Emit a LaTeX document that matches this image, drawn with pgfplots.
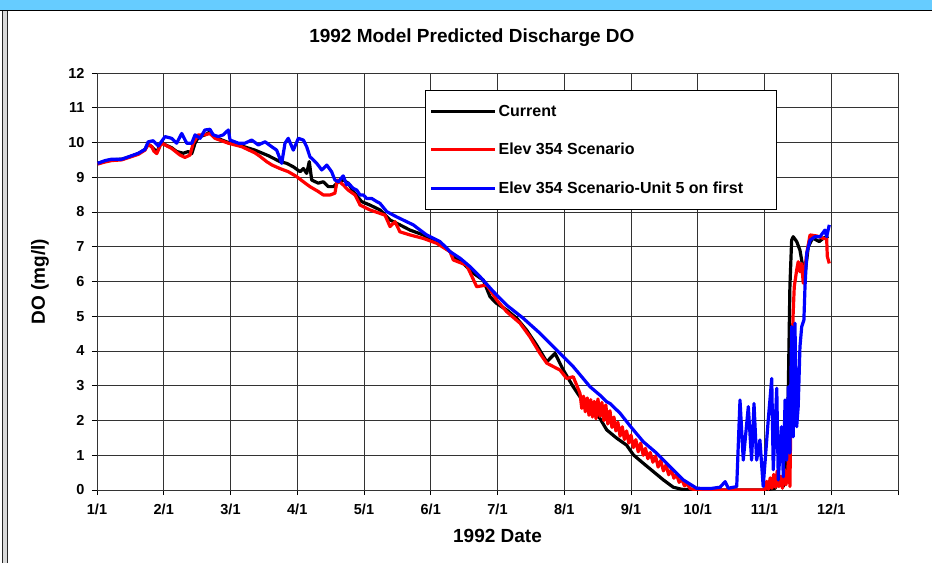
\documentclass[border=0pt]{standalone}
\usepackage{fontspec}
\setmainfont{Liberation Sans}
\usepackage{pgfplots}
\pgfplotsset{compat=1.18}
\definecolor{barblue}{HTML}{66CCFF}

\begin{document}
\begin{tikzpicture}[x=1pt,y=1pt]
\useasboundingbox (0,0) rectangle (932,563);
\fill[white] (0,0) rectangle (932,563);
\fill[barblue] (0,553) rectangle (932,563);
\draw[black, line width=1.5pt] (0,552.5) -- (932,552.5);
\fill[black!15] (2,0) rectangle (8,552);
\draw[black!85, line width=1.5pt] (2.5,0) -- (2.5,552);
\draw[black!85, line width=1.5pt] (7.5,0) -- (7.5,552);
\begin{axis}[
  at={(97pt,73pt)}, anchor=south west,
  scale only axis, width=801pt, height=417pt,
  xmin=0, xmax=366, ymin=0, ymax=12,
  xtick={0,30.5,61,91.5,122,152.5,183,213.5,244,274.5,305,335.5,366},
  xticklabels={1/1,2/1,3/1,4/1,5/1,6/1,7/1,8/1,9/1,10/1,11/1,12/1,{}},
  ytick={0,1,...,12},
  xtick pos=bottom, ytick pos=left,
  tick align=outside, major tick length=5pt,
  tick style={black, line width=0.8pt},
  grid=major, major grid style={black!80, line width=0.8pt},
  axis line style={black!80, line width=0.8pt},
  /pgf/number format/assume math mode=true,
  tick label style={font=\fontsize{14.5}{16}\selectfont\bfseries},
  x tick label style={yshift=-5pt},
  y tick label style={xshift=-4pt},
  xlabel={1992 Date}, ylabel={DO (mg/l)},
  label style={font=\fontsize{19}{21}\selectfont\bfseries},
  xlabel style={at={(axis description cs:0.5,-0.1103)}, anchor=center},
  ylabel style={at={(axis description cs:-0.0712,0.5)}, anchor=center},
  title={1992 Model Predicted Discharge DO},
  title style={at={(axis description cs:0.468,1.091)}, anchor=center, yshift=-9pt, font=\fontsize{19}{21}\selectfont\bfseries},
  legend style={at={(axis description cs:0.4095,0.959)}, anchor=north west,
    draw=black, line width=0.8pt, fill=white, font=\fontsize{16}{18}\selectfont\bfseries,
    row sep=21.5pt, inner xsep=4pt, inner ysep=12.5pt, cells={anchor=west}},
  legend image code/.code={\draw[#1] (0pt,0pt) -- (64pt,0pt);},
  every axis plot/.append style={line width=3.2pt, line join=round},
]
% Current
\addplot[black] coordinates {
(0.3,9.40) (3.7,9.46) (6.7,9.50) (11.3,9.52) (13.6,9.56) (18.9,9.68) (21.9,9.80) (23.4,9.95)
(25.0,9.88) (27.3,9.72) (28.8,9.93) (29.6,9.98) (34.1,9.85) (36.4,9.74) (39.4,9.69) (41.7,9.74)
(43.3,9.68) (44.8,9.98) (46.3,10.15) (49.3,10.22) (51.6,10.30) (53.9,10.15) (60.0,10.00) (66.1,9.90)
(72.2,9.78) (78.3,9.62) (83.6,9.45) (86.7,9.40) (89.7,9.30) (92.8,9.16) (94.3,9.25) (95.8,9.11)
(97.0,9.45) (98.1,8.92) (101.1,8.83) (103.4,8.87) (105.7,8.73) (108.0,8.73) (110.3,8.87) (112.5,8.92)
(114.8,8.83) (117.1,8.59) (120.9,8.30) (124.7,8.20) (129.3,8.06) (133.9,7.77) (138.4,7.63) (143.0,7.48)
(149.1,7.34) (155.2,7.15) (161.3,6.86) (162.8,6.72) (167.4,6.52) (171.9,6.24) (176.5,6.04) (179.6,5.56)
(182.6,5.37) (187.2,5.18) (191.8,4.94) (196.3,4.60) (200.9,4.17) (205.5,3.69) (209.3,3.93) (213.1,3.45)
(217.6,2.97) (220.7,2.68) (225.3,2.40) (229.8,2.06) (232.9,1.73) (237.5,1.49) (242.0,1.29) (245.1,1.01)
(249.6,0.77) (254.2,0.53) (258.8,0.29) (263.3,0.08) (267.2,0.02) (274.0,0.00) (305.0,0.00) (309.8,0.05)
(312.1,0.30) (313.6,0.10) (315.1,0.80) (315.9,3.00) (316.6,5.85) (317.4,7.19) (318.1,7.29) (319.7,7.15)
(321.2,6.90) (322.3,6.50) (323.5,6.20) (325.0,7.00) (327.0,7.25) (330.0,7.15) (332.0,7.25) (334.2,7.30)
};
\addlegendentry{\makebox[272pt][l]{Current}}
% Elev 354 Scenario
\addplot[red] coordinates {
(0.3,9.38) (3.7,9.44) (6.7,9.48) (11.3,9.50) (13.6,9.55) (18.9,9.66) (21.9,9.78) (23.4,9.95)
(25.0,9.88) (26.0,9.75) (27.3,9.68) (28.8,9.90) (29.6,9.98) (34.1,9.83) (37.9,9.64) (40.2,9.57)
(42.5,9.64) (44.0,9.98) (46.3,10.22) (49.3,10.22) (51.6,10.26) (53.9,10.12) (60.0,9.98) (66.1,9.88)
(72.2,9.70) (74.5,9.60) (77.5,9.45) (80.0,9.35) (83.6,9.25) (87.4,9.16) (91.2,9.02) (94.3,8.87)
(97.3,8.73) (101.1,8.59) (103.4,8.49) (106.5,8.49) (108.7,8.54) (109.8,8.92) (112.5,8.78) (114.8,8.63)
(117.9,8.49) (120.2,8.20) (124.7,8.06) (129.3,7.96) (131.6,7.91) (133.9,7.58) (136.2,7.72) (138.4,7.43)
(143.0,7.34) (149.1,7.24) (155.2,7.10) (161.3,6.86) (162.8,6.62) (168.9,6.47) (173.5,5.85) (178.1,5.90)
(182.6,5.47) (187.2,5.13) (193.3,4.80) (197.8,4.41) (202.4,3.93) (205.5,3.65) (211.6,3.45) (214.6,3.21)
(217.6,3.26) (220.7,2.78) (221.5,2.35) (222.3,2.70) (223.1,2.25) (224.0,2.65) (224.8,2.15) (225.6,2.60)
(226.4,2.10) (227.2,2.55) (228.0,2.05) (228.9,2.62) (229.8,2.12) (230.7,2.52) (231.6,2.00) (232.5,2.45)
(233.4,1.90) (234.4,2.28) (235.3,1.80) (236.2,2.10) (237.1,1.70) (238.0,1.95) (239.0,1.55) (240.0,1.82)
(241.0,1.45) (242.0,1.70) (243.0,1.35) (244.0,1.58) (245.1,1.22) (246.2,1.45) (247.3,1.10) (248.4,1.35)
(249.6,1.00) (250.6,1.20) (251.7,0.90) (252.8,1.08) (254.0,0.80) (255.2,0.98) (256.4,0.66) (257.6,0.85)
(258.8,0.55) (260.0,0.72) (261.2,0.44) (262.4,0.58) (263.6,0.34) (264.8,0.45) (266.0,0.22) (267.2,0.32)
(268.4,0.12) (269.6,0.18) (271.0,0.04) (274.0,0.00) (305.2,0.00) (306.0,0.25) (306.8,0.02) (307.6,0.35)
(308.4,0.05) (309.2,0.45) (310.0,0.08) (310.8,0.55) (311.6,0.10) (312.4,0.40) (313.2,0.05) (314.0,0.60)
(314.8,0.15) (315.6,0.50) (316.3,1.30) (316.6,0.10) (316.9,1.44) (317.4,3.70) (318.1,5.09) (318.6,5.85)
(319.7,6.33) (320.4,6.57) (321.2,6.28) (322.0,6.52) (322.7,5.95) (324.3,6.81) (325.8,7.34) (328.9,7.31)
(331.9,7.24) (333.4,7.24) (333.7,6.72) (334.6,6.52)
};
\addlegendentry{\makebox[272pt][l]{Elev 354 Scenario}}
% Elev 354 Scenario-Unit 5 on first
\addplot[blue] coordinates {
(0.3,9.40) (3.7,9.48) (6.7,9.52) (11.3,9.52) (13.6,9.57) (18.9,9.69) (21.9,9.80) (23.4,10.02)
(25.7,10.05) (28.0,9.90) (31.1,10.17) (34.1,10.12) (36.4,9.98) (38.7,10.26) (41.0,9.98) (43.3,9.98)
(44.8,10.22) (47.1,10.12) (49.3,10.36) (51.6,10.38) (53.1,10.22) (55.4,10.17) (57.7,10.22) (60.0,10.36)
(60.8,10.07) (64.6,9.98) (67.6,9.98) (70.7,10.07) (73.7,9.93) (76.8,10.02) (79.8,9.88) (82.1,9.78)
(84.4,9.40) (85.9,9.98) (87.4,10.12) (89.7,9.78) (92.0,10.12) (94.3,10.07) (95.8,9.88) (97.3,9.59)
(98.8,9.50) (100.4,9.40) (102.7,9.21) (105.0,9.35) (107.2,9.16) (108.7,8.92) (110.3,8.87) (112.5,9.04)
(114.1,8.78) (114.8,8.83) (117.1,8.68) (118.7,8.63) (120.2,8.49) (121.7,8.49) (123.2,8.39) (125.5,8.39)
(127.8,8.30) (129.3,8.25) (132.4,8.01) (136.9,7.86) (144.5,7.63) (150.6,7.34) (156.7,7.15) (159.8,6.96)
(161.3,6.86) (165.9,6.67) (170.4,6.43) (175.0,6.14) (181.1,5.71) (187.2,5.32) (194.8,4.94) (202.4,4.51)
(210.0,4.03) (217.6,3.55) (225.3,2.97) (229.8,2.73) (232.9,2.54) (234.4,2.49) (239.0,2.21) (243.5,1.85)
(249.6,1.39) (255.7,1.06) (261.8,0.67) (267.9,0.29) (274.0,0.05) (280.1,0.04) (284.7,0.08) (287.0,0.24)
(288.5,0.05) (292.3,0.10) (293.8,2.59) (295.3,0.86) (297.6,2.40) (299.1,0.86) (300.2,2.49) (301.4,0.86)
(302.9,1.44) (304.4,0.10) (306.7,2.01) (308.3,3.21) (309.0,0.58) (310.6,2.93) (311.3,0.29) (312.8,1.82)
(313.6,0.38) (314.4,2.59) (315.1,0.86) (315.9,2.97) (316.6,1.06) (317.4,4.70) (318.1,1.53) (318.9,4.80)
(319.7,1.82) (320.4,2.40) (321.2,4.12) (322.0,4.70) (323.0,4.89) (323.5,5.85) (324.3,6.81) (325.8,7.19)
(328.1,7.29) (330.4,7.29) (332.6,7.48) (333.4,7.29) (334.6,7.63)
};
\addlegendentry{\makebox[272pt][l]{Elev 354 Scenario-Unit 5 on first}}
\end{axis}
\end{tikzpicture}
\end{document}
